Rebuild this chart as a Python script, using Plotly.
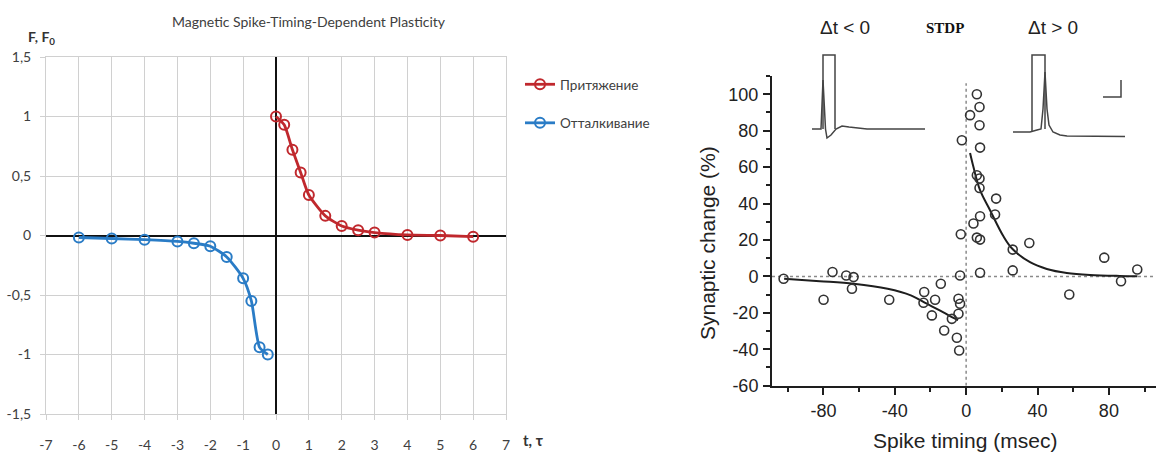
import plotly.graph_objects as go

W, H = 1156, 453

# ---------------- Left chart data ----------------
attr_t = [0, 0.25, 0.5, 0.75, 1, 1.5, 2, 2.5, 3, 4, 5, 6]
attr_f = [1.0, 0.93, 0.72, 0.53, 0.34, 0.165, 0.08, 0.045, 0.025, 0.005, 0.0, -0.01]
rep_t = [-6, -5, -4, -3, -2.5, -2, -1.5, -1, -0.75, -0.5, -0.25]
rep_f = [-0.017, -0.025, -0.035, -0.05, -0.065, -0.09, -0.18, -0.36, -0.55, -0.94, -1.0]
left_xticks = list(range(-7, 8))
left_xticktext = [str(v) for v in left_xticks]
left_yticks = [-1.5, -1, -0.5, 0, 0.5, 1, 1.5]
left_yticktext = ["-1,5", "-1", "-0,5", "0", "0,5", "1", "1,5"]

# ---------------- Right chart data (STDP) ----------------
pts_t = [-102.3, -74.9, -67.2, -63.1, -64.0, -79.9, -43.1, -23.5, -23.9, -14.2,
         -17.4, -19.2, -12.3, -8.0, -4.3, -4.3, -3.4, -5.2, -3.9, -3.4, -3.0, -2.4,
         6.0, 7.5, 2.2, 7.5, 7.8, 6.0, 7.5, 7.5, 16.8, 16.2, 7.8, 4.1, 6.0, 7.8,
         26.1, 35.4, 26.1, 7.8, 57.8, 77.4, 86.8, 95.9]
pts_v = [-1.3, 2.4, 0.5, -0.4, -6.8, -12.8, -12.8, -8.6, -14.5, -4.0,
         -12.8, -21.4, -29.7, -23.3, -20.5, -12.3, -15.0, -33.7, -40.7, 0.5, 23.1, 74.7,
         100, 93, 88.5, 83, 70.7, 55.5, 53.7, 48.5, 42.7, 34.0, 33.0, 29.0, 21.3, 20.2,
         14.7, 18.3, 3.3, 2.0, -9.9, 10.3, -2.7, 3.8]
fit_pos_t = [2.2, 4.1, 7.8, 13.4, 20.9, 26.0, 35.8, 45.2, 56.4, 69.4, 86.0, 96.0]
fit_pos_v = [67.7, 60.0, 47.3, 36.3, 22.0, 15.0, 7.8, 4.1, 1.9, 0.8, 0.25, 0.1]
fit_neg_t = [-102.0, -82.0, -63.0, -44.0, -31.0, -22.0, -13.0, -8.0, -4.5]
fit_neg_v = [-1.3, -2.6, -4.0, -6.8, -10.4, -15.0, -19.6, -22.3, -24.0]
right_xticks = [-80, -40, 0, 40, 80]
right_xminor = [-100, -60, -20, 20, 60, 100]
right_yticks = [-60, -40, -20, 0, 20, 40, 60, 80, 100]
right_yminor = [-50, -30, -10, 10, 30, 50, 70, 90, 110]

# inset traces (arbitrary time / voltage units)
w1_t = [-1, 8, 10, 12.5, 14, 18, 23, 29, 36, 54, 112]
w1_v = [0, 0, 49, 0, -9, -6, 0, 3, 2, 0, 0]
b1_t = [10, 10, 22, 22]
b1_v = [0, 74, 74, 0]
w2_t = [0, 17, 24, 28, 30, 32, 34, 36, 40, 47, 54, 112]
w2_v = [-3, -3, -1, 0, 20, 57, 20, 4, -3, -6, -7, -7.5]
b2_t = [19, 19, 32, 32]
b2_v = [-3, 74, 74, 0]
sb_t = [90, 108, 108]
sb_v = [32, 32, 49]


def px(x):
    return x / W


def py(y):
    return 1 - y / H


RED = "#C0282D"
BLUE = "#2A7CC6"
GRID = "#D0D0D0"
TXT = "#404040"
LFONT = "Lato, Carlito, Calibri, sans-serif"
RFONT = "Liberation Sans, Arial, sans-serif"
INK = "#1e1e1e"

fig = go.Figure()

fig.add_trace(go.Scatter(
    x=attr_t, y=attr_f, mode="lines+markers", name="Притяжение",
    legendgroup="a",
    line=dict(color=RED, width=2.8, shape="spline", smoothing=0.6),
    marker=dict(symbol="circle-open", size=10, color=RED, line=dict(width=2)),
    xaxis="x", yaxis="y"))
fig.add_trace(go.Scatter(
    x=rep_t, y=rep_f, mode="lines+markers", name="Отталкивание",
    legendgroup="b",
    line=dict(color=BLUE, width=2.8, shape="spline", smoothing=0.6),
    marker=dict(symbol="circle-open", size=10, color=BLUE, line=dict(width=2)),
    xaxis="x", yaxis="y"))

# right chart
fig.add_trace(go.Scatter(
    x=fit_neg_t, y=fit_neg_v, mode="lines", showlegend=False,
    line=dict(color=INK, width=2, shape="spline"), xaxis="x2", yaxis="y2"))
fig.add_trace(go.Scatter(
    x=fit_pos_t, y=fit_pos_v, mode="lines", showlegend=False,
    line=dict(color=INK, width=2, shape="spline"), xaxis="x2", yaxis="y2"))
fig.add_trace(go.Scatter(
    x=pts_t, y=pts_v, mode="markers", showlegend=False,
    marker=dict(symbol="circle-open", size=9, color="#333333", line=dict(width=1.6)),
    xaxis="x2", yaxis="y2"))

# insets
for tx, vy, ax in [(w1_t, w1_v, 3), (b1_t, b1_v, 3), (w2_t, w2_v, 4), (b2_t, b2_v, 4), (sb_t, sb_v, 4)]:
    fig.add_trace(go.Scatter(
        x=tx, y=vy, mode="lines", showlegend=False,
        line=dict(color="#444444", width=1.5),
        xaxis="x%d" % ax, yaxis="y%d" % ax))


def ann(text, x, y, font, angle=0):
    return dict(text=text, x=px(x), y=py(y), xref="paper", yref="paper",
                xanchor="center", yanchor="middle", showarrow=False,
                textangle=angle, font=font)


fig.update_layout(
    width=W, height=H,
    margin=dict(l=0, r=0, t=0, b=0, pad=0, autoexpand=False),
    paper_bgcolor="white", plot_bgcolor="white",
    showlegend=True,
    legend=dict(x=px(520), y=py(69), xanchor="left", yanchor="top",
                tracegroupgap=18, font=dict(family=LFONT, size=13.5, color=TXT),
                bgcolor="rgba(0,0,0,0)", itemwidth=30),
    xaxis=dict(domain=[px(46), px(506)], range=[-7, 7], anchor="y", automargin=False,
               tickmode="array", tickvals=left_xticks, ticktext=left_xticktext,
               showgrid=True, gridcolor=GRID, gridwidth=1,
               zeroline=True, zerolinecolor="#111111", zerolinewidth=2,
               showline=True, mirror=True, linecolor=GRID, linewidth=1,
               ticks="outside", ticklen=5, tickcolor=GRID,
               ticklabelstandoff=13,
               tickfont=dict(family=LFONT, size=14, color=TXT)),
    yaxis=dict(domain=[py(414), py(57)], range=[-1.5, 1.5], anchor="x", automargin=False,
               tickmode="array", tickvals=left_yticks, ticktext=left_yticktext,
               showgrid=True, gridcolor=GRID, gridwidth=1,
               zeroline=True, zerolinecolor="#111111", zerolinewidth=2,
               showline=True, mirror=True, linecolor=GRID, linewidth=1,
               ticks="outside", ticklen=5, tickcolor=GRID,
               ticklabelstandoff=6,
               tickfont=dict(family=LFONT, size=14, color=TXT)),
    xaxis2=dict(domain=[px(772), 1.0], range=[-108.8, 106.4], anchor="y2", automargin=False,
                showgrid=False, zeroline=False,
                showline=True, linecolor=INK, linewidth=2,
                tickmode="array", tickvals=right_xticks,
                ticktext=[str(v) for v in right_xticks],
                ticks="outside", ticklen=7, tickwidth=1.5, tickcolor=INK,
                minor=dict(tickmode="array", tickvals=right_xminor, ticks="outside",
                           ticklen=4, tickwidth=1.5, tickcolor=INK, showgrid=False),
                ticklabelstandoff=1,
                tickfont=dict(family=RFONT, size=18, color="#222222")),
    yaxis2=dict(domain=[py(385.7), py(76)], range=[-60, 110], anchor="x2", automargin=False,
                showgrid=False, zeroline=False,
                showline=True, linecolor=INK, linewidth=2,
                tickmode="array", tickvals=right_yticks,
                ticktext=[str(v) for v in right_yticks],
                ticks="outside", ticklen=7, tickwidth=1.5, tickcolor=INK,
                minor=dict(tickmode="array", tickvals=right_yminor, ticks="outside",
                           ticklen=4, tickwidth=1.5, tickcolor=INK, showgrid=False),
                ticklabelstandoff=1,
                tickfont=dict(family=RFONT, size=18, color="#222222")),
    xaxis3=dict(domain=[px(808), px(930)], range=[-5, 117], anchor="y3", visible=False, automargin=False),
    yaxis3=dict(domain=[py(142), py(50)], range=[-13, 79], anchor="x3", visible=False, automargin=False),
    xaxis4=dict(domain=[px(1008), px(1130)], range=[-5, 117], anchor="y4", visible=False, automargin=False),
    yaxis4=dict(domain=[py(142), py(50)], range=[-13, 79], anchor="x4", visible=False, automargin=False),
    shapes=[
        dict(type="line", xref="x2", yref="y2", x0=-108.8, x1=106.4, y0=0, y1=0,
             line=dict(color="#8a8a8a", width=1.5, dash="dot"), layer="below"),
        dict(type="line", xref="x2", yref="y2", x0=0, x1=0, y0=-60, y1=106,
             line=dict(color="#8a8a8a", width=1.5, dash="dot"), layer="below"),
    ],
    annotations=[
        ann("Magnetic Spike-Timing-Dependent Plasticity", 309, 21,
            dict(family=LFONT, size=14, color=TXT)),
        ann("<b>F, F<sub>0</sub></b>", 41, 38, dict(family=LFONT, size=14, color="#333333")),
        ann("<b>t, τ</b>", 533, 440, dict(family=LFONT, size=15, color="#333333")),
        ann("Δt < 0", 845, 28, dict(family=RFONT, size=19, color="#222222")),
        ann("<b>STDP</b>", 945, 28, dict(family="Liberation Serif, Times New Roman, serif",
                                         size=15, color="#111111")),
        ann("Δt > 0", 1053, 28, dict(family=RFONT, size=19, color="#222222")),
        ann("Synaptic change (%)", 708, 243, dict(family=RFONT, size=21, color="#222222"), -90),
        ann("Spike timing (msec)", 965, 440, dict(family=RFONT, size=21, color="#222222")),
    ],
)

fig.write_html("out.html", config={"displayModeBar": False},
               post_script="document.body.style.margin='0';")
